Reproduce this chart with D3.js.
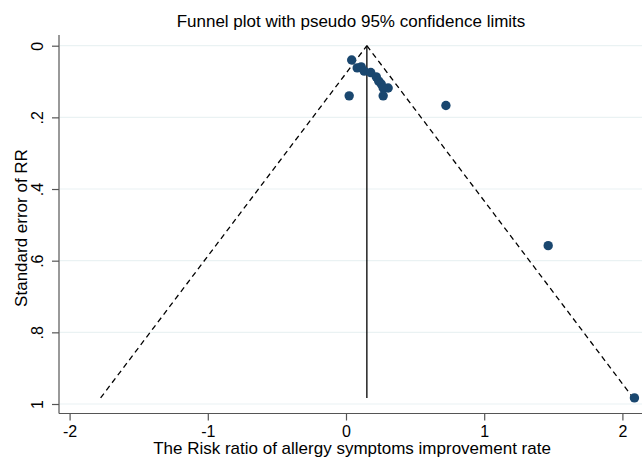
<!DOCTYPE html>
<html>
<head>
<meta charset="utf-8">
<script src="https://cdn.jsdelivr.net/npm/d3@7"></script>
<style>
  html, body { margin: 0; padding: 0; background: #fff; }
  svg { display: block; font-family: "Liberation Sans", Arial, sans-serif; }
</style>
</head>
<body>
<svg id="chart" width="642" height="458"></svg>
<script>
// Study effect sizes (log risk ratio) and their standard errors
const logRR = [0.041, 0.081, 0.110, 0.132, 0.179, 0.219, 0.237, 0.255, 0.305, 0.269, 0.269, 0.023, 0.723, 1.463, 2.087];
const seRR  = [0.040, 0.062, 0.059, 0.071, 0.075, 0.087, 0.099, 0.107, 0.118, 0.118, 0.140, 0.140, 0.167, 0.558, 0.983];
// Pooled (fixed-effect) estimate shown as the vertical line
const pooled = 0.151;
const xTicks = [-2, -1, 0, 1, 2];
const xTickLabels = ["-2", "-1", "0", "1", "2"];
const yTicks = [0, 0.2, 0.4, 0.6, 0.8, 1];
const yTickLabels = ["0", ".2", ".4", ".6", ".8", "1"];

const svg = d3.select("#chart");
const W = 642, H = 458;
const axisLeft = 59, axisBottom = 413.5, axisTop = 35;

const x = d3.scaleLinear().domain([-2, 2]).range([69.6, 622.4]);
const y = d3.scaleLinear().domain([0, 1]).range([45.7, 404]);

const seMax = d3.max(seRR);
const navy = "#1a476f";

// horizontal grid lines
svg.append("g").selectAll("line").data(yTicks).join("line")
  .attr("x1", axisLeft + 1).attr("x2", W)
  .attr("y1", d => y(d)).attr("y2", d => y(d))
  .attr("stroke", "#eaf2f3").attr("stroke-width", 1.2);

// pseudo 95% confidence limits
const lim = [
  [[pooled - 1.96 * seMax, seMax], [pooled, 0]],
  [[pooled, 0], [pooled + 1.96 * seMax, seMax]]
];
svg.append("g").selectAll("path").data(lim).join("path")
  .attr("d", d => d3.line().x(p => x(p[0])).y(p => y(p[1]))(d))
  .attr("fill", "none").attr("stroke", "#000").attr("stroke-width", 1.3)
  .attr("stroke-dasharray", "5.5,4");

// pooled estimate line
svg.append("line")
  .attr("x1", x(pooled)).attr("x2", x(pooled))
  .attr("y1", y(0)).attr("y2", y(seMax))
  .attr("stroke", "#000").attr("stroke-width", 1.3);

// studies
svg.append("g").selectAll("circle").data(logRR).join("circle")
  .attr("cx", d => x(d)).attr("cy", (d, i) => y(seRR[i]))
  .attr("r", 4.7).attr("fill", navy);

// y axis
const gy = svg.append("g").attr("transform", `translate(${axisLeft},0)`)
  .call(d3.axisLeft(y).tickValues(yTicks).tickSize(7).tickPadding(6)
    .tickFormat((d, i) => yTickLabels[i]));
gy.select(".domain").attr("d", `M0,${axisTop}V${axisBottom}`).attr("stroke", "#555").attr("stroke-width", 1.2);
gy.selectAll(".tick line").attr("stroke", "#555").attr("stroke-width", 1.2);
gy.selectAll(".tick text")
  .attr("font-size", 16).attr("fill", "#000")
  .attr("text-anchor", "middle").attr("x", 0).attr("dy", 0)
  .attr("transform", "translate(-16,0) rotate(-90)");

// x axis
const gx = svg.append("g").attr("transform", `translate(0,${axisBottom})`)
  .call(d3.axisBottom(x).tickValues(xTicks).tickSize(7).tickPadding(5)
    .tickFormat((d, i) => xTickLabels[i]));
gx.select(".domain").attr("d", `M${axisLeft},0H${W}`).attr("stroke", "#555").attr("stroke-width", 1.2);
gx.selectAll(".tick line").attr("stroke", "#555").attr("stroke-width", 1.2);
gx.selectAll(".tick text").attr("font-size", 16).attr("fill", "#000");

// titles
svg.append("text").attr("x", 351).attr("y", 27).attr("text-anchor", "middle")
  .attr("font-size", 17).text("Funnel plot with pseudo 95% confidence limits");
svg.append("text").attr("x", 352).attr("y", 454).attr("text-anchor", "middle")
  .attr("font-size", 17).text("The Risk ratio of allergy symptoms improvement rate");
svg.append("text").attr("transform", "translate(27,228) rotate(-90)").attr("text-anchor", "middle")
  .attr("font-size", 17).text("Standard error of RR");
</script>
</body>
</html>
